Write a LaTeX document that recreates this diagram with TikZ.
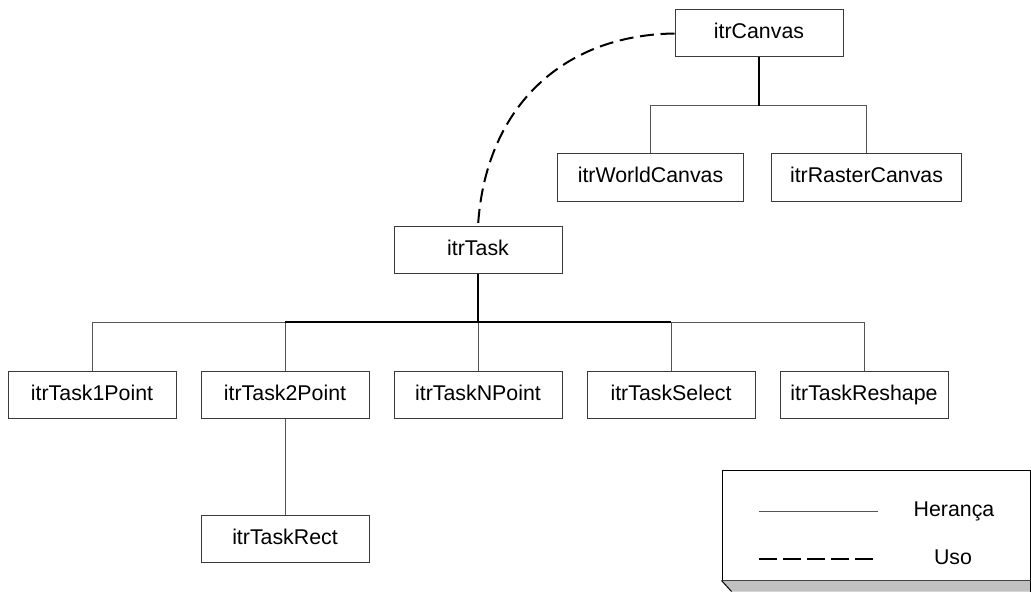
\documentclass[tikz,border=0pt]{standalone}
\usepackage{fontspec}
\setmainfont{Liberation Sans}
\usepackage{tikz}
\usetikzlibrary{positioning}
\definecolor{linegray}{HTML}{555555}
\definecolor{boxgray}{HTML}{3A3A3A}
\definecolor{shadowgray}{HTML}{C0C0C0}
\tikzset{
  cls/.style={
    rectangle,
    draw=boxgray,
    fill=white,
    line width=0.75pt,
    minimum width=126pt,
    minimum height=35.25pt,
    inner sep=0pt,
    text height=11.5pt,
    text depth=3.5pt,
    font=\fontsize{16}{19}\selectfont
  },
  legbox/.style={
    rectangle,
    draw=black,
    fill=white,
    line width=0.75pt,
    minimum width=231pt,
    minimum height=82.5pt,
    inner sep=0pt
  },
  legtext/.style={inner sep=0pt, text height=11.5pt, text depth=3.5pt, font=\fontsize{16}{19}\selectfont},
  heranca/.style={draw=linegray, line width=0.75pt},
  tronco/.style={draw=black, line width=1.5pt},
  uso/.style={draw=black, line width=1.5pt, dash pattern=on 10.5pt off 5pt},
  usoleg/.style={draw=black, line width=1.5pt, dash pattern=on 13.5pt off 4.5pt}
}

\begin{document}
\begin{tikzpicture}[x=0.75pt,y=-0.75pt,node distance=72.75pt and 18pt]

\useasboundingbox (0,0) rectangle (1031,599);

\node[cls] (canvas) at (759,33.5) {itrCanvas};
\node[cls, minimum width=140pt] (world) at (650.5,177.5) {itrWorldCanvas};
\node[cls, minimum width=143pt] (raster) at (866.5,177.5) {itrRasterCanvas};

\node[cls] (task) at (478,250) {itrTask};
\node[cls, below=of task] (tasknpoint) {itrTaskNPoint};
\node[cls, left=of tasknpoint] (task2point) {itrTask2Point};
\node[cls, left=of task2point] (task1point) {itrTask1Point};
\node[cls, right=of tasknpoint] (taskselect) {itrTaskSelect};
\node[cls, right=of taskselect] (taskreshape) {itrTaskReshape};
\node[cls, below=72pt of task2point] (taskrect) {itrTaskRect};

\coordinate (busCanvas) at (759,106);
\coordinate (busTask) at (478,322);

\draw[heranca] (world) |- (busCanvas -| raster) -- (raster);
\draw[tronco] (canvas) -- (busCanvas);

\draw[heranca] (task1point) |- (busTask -| taskreshape) -- (taskreshape);
\draw[heranca] (task2point) -- (busTask -| task2point);
\draw[heranca] (tasknpoint) -- (busTask);
\draw[heranca] (taskselect) -- (busTask -| taskselect);
\draw[tronco] (busTask -| task2point) -- (busTask -| taskselect);
\draw[tronco] (task) -- (busTask);
\draw[heranca] (task2point) -- (taskrect);

\draw[uso] (canvas.west) .. controls (560,35) and (485,110) .. (task.north);

\node[legbox] (legenda) at (876,525) {};
\fill[shadowgray] (legenda.south west) -- ++(10,11) -| (legenda.south east) -- cycle;
\draw[black, line width=0.75pt] (legenda.south west) -- ++(10,11);
\draw[black, line width=0.75pt] (legenda.south east) -- ++(0,11);

\coordinate (herA) at (759,511);
\coordinate (herB) at (878,511);
\coordinate (usoA) at (759,559);
\coordinate (usoB) at (875,559);
\draw[heranca] (herA) -- (herB);
\draw[usoleg] (usoA) -- (usoB);
\node[legtext] (herancatxt) at (954,511) {Herança};
\node[legtext] (usotxt) at (953,559) {Uso};

\end{tikzpicture}
\end{document}
